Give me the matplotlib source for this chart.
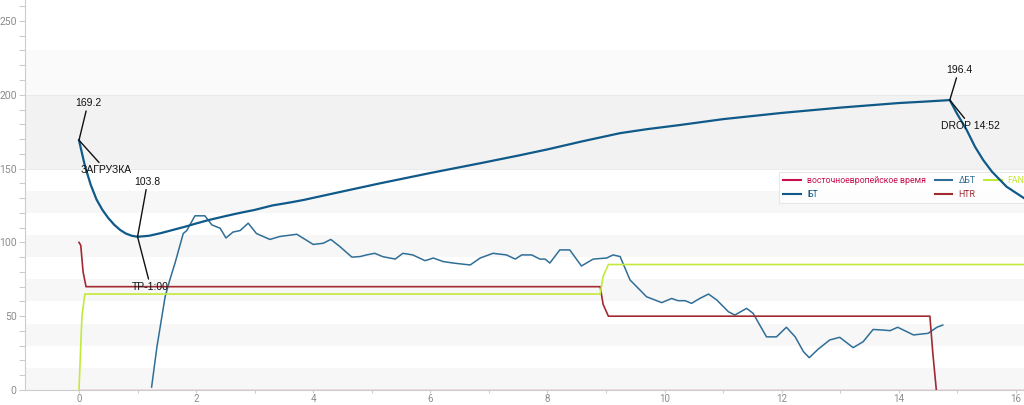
import numpy as np
import matplotlib.pyplot as plt
from matplotlib.ticker import MultipleLocator

plt.rcParams['font.family'] = ['Roboto', 'DejaVu Sans']

# -----------------------------
# Data (time in minutes)
# -----------------------------
bt_t = [0.0, 0.1, 0.2, 0.3, 0.4, 0.5, 0.6, 0.7, 0.8, 0.9, 1.0, 1.2, 1.4, 1.6,
        1.8, 2.0, 2.2, 2.5, 2.75, 3.0, 3.3, 3.6, 3.83, 4.5, 5.14, 6.0, 6.85,
        7.5, 8.0, 8.6, 9.24, 9.7, 10.26, 11.0, 12.0, 13.0, 14.0, 14.5, 14.87,
        14.99, 15.16, 15.3, 15.44, 15.59, 15.84, 16.14, 16.4]
bt_v = [169.2, 152.0, 139.0, 129.0, 122.0, 116.5, 112.0, 108.5, 106.0, 104.5,
        103.8, 104.5, 106.3, 108.4, 110.5, 112.8, 115.0, 117.8, 120.0, 122.0,
        125.0, 127.0, 128.7, 134.5, 140.0, 147.0, 153.6, 158.8, 163.0, 168.5,
        174.0, 176.7, 179.5, 183.5, 187.7, 191.3, 194.4, 195.5, 196.4,
        187.4, 176.0, 164.8, 155.8, 147.9, 137.7, 129.9, 123.0]

ror_t = [1.24, 1.33, 1.47, 1.55, 1.64, 1.78, 1.84, 1.98, 2.15, 2.27, 2.41, 2.51,
         2.63, 2.75, 2.89, 3.03, 3.26, 3.43, 3.72, 4.0, 4.17, 4.3, 4.46, 4.66,
         4.8, 4.91, 5.05, 5.19, 5.4, 5.53, 5.7, 5.91, 6.05, 6.22, 6.39, 6.68,
         6.85, 7.07, 7.3, 7.45, 7.56, 7.73, 7.87, 7.96, 8.04, 8.21, 8.38, 8.58,
         8.78, 9.01, 9.12, 9.24, 9.41, 9.58, 9.69, 9.95, 10.12, 10.23, 10.35,
         10.46, 10.6, 10.75, 10.89, 11.09, 11.2, 11.4, 11.51, 11.74, 11.91,
         12.08, 12.23, 12.37, 12.47, 12.62, 12.82, 12.99, 13.22, 13.39, 13.56,
         13.73, 13.85, 13.98, 14.25, 14.5, 14.65, 14.75]
ror_v = [2.0, 29.0, 63.0, 74.5, 86.0, 106.0, 108.0, 118.0, 118.0, 111.8, 109.6,
         103.0, 107.0, 108.0, 113.0, 106.0, 102.0, 104.0, 105.5, 98.6, 99.4,
         102.0, 97.0, 90.0, 90.4, 91.5, 92.6, 90.3, 88.7, 92.6, 91.5, 87.6,
         89.4, 87.0, 86.0, 84.7, 89.4, 92.6, 91.5, 88.7, 91.5, 91.5, 88.7,
         88.7, 86.0, 94.9, 94.9, 84.0, 88.7, 89.4, 91.5, 90.4, 74.5, 67.7,
         63.2, 59.2, 62.0, 60.5, 60.5, 58.7, 62.0, 65.0, 61.0, 53.0, 50.8,
         55.3, 52.0, 36.0, 36.0, 42.5, 36.0, 26.0, 21.9, 27.6, 33.9, 35.7,
         28.7, 32.7, 41.0, 40.6, 40.2, 42.5, 37.3, 38.4, 42.5, 44.0]

htr_t = [0.0, 0.03, 0.07, 0.12, 8.9, 8.95, 9.04, 14.53, 14.58, 14.64]
htr_v = [100.0, 98.0, 80.0, 70.0, 70.0, 58.0, 50.0, 50.0, 25.0, 0.0]

fan_t = [0.0, 0.05, 0.1, 8.9, 8.95, 9.04, 16.5]
fan_v = [0.0, 50.0, 65.0, 65.0, 77.0, 85.0, 85.0]

et_t = [0.0, 16.5]
et_v = [0.0, 0.0]

# annotations: (time, value, label, offset in pixels)
events = [
    (0.0, 169.2, "169.2", (9, 37)),
    (0.0, 169.2, "ЗАГРУЗКА", (27, -30)),
    (1.0, 103.8, "103.8", (10, 55)),
    (1.0, 103.8, "TP-1:00", (13, -50)),
    (14.87, 196.4, "196.4", (9, 30)),
    (14.87, 196.4, "DROP 14:52", (21, -26)),
]

# colours
c_et = "#c8104e"
c_bt = "#0f5a88"
c_ror = "#2f6e96"
c_htr = "#a02a30"
c_fan = "#c3ea3a"

# -----------------------------
# Figure
# -----------------------------
fig = plt.figure(figsize=(10.24, 4.05), dpi=100)
ax = fig.add_axes([25 / 1024, 15 / 405, 999 / 1024, 390 / 405])
ax.set_xlim(-0.922, 16.137)
ax.set_ylim(0, 264.2)

# background bands
for lo in range(0, 150, 30):
    ax.axhspan(lo, lo + 15, color="#f7f7f8", lw=0, zorder=0)
ax.axhspan(150, 200, color="#f2f2f2", lw=0, zorder=0)
ax.axhspan(200, 230, color="#fafafa", lw=0, zorder=0)
ax.axhline(200, color="#e8e8e8", lw=0.6, zorder=0.5)
ax.axhline(150, color="#e8e8e8", lw=0.6, zorder=0.5)

ax.plot(et_t, et_v, color=c_et, lw=1.0, alpha=0.6,
        label="восточноевропейское время", zorder=2.5)
ax.plot(bt_t, bt_v, color=c_bt, lw=1.6, label="БТ", zorder=4)
ax.plot(ror_t, ror_v, color=c_ror, lw=1.1, label="ΔБТ", zorder=3)
ax.plot(htr_t, htr_v, color=c_htr, lw=1.2, label="HTR", zorder=3)
ax.plot(fan_t, fan_v, color=c_fan, lw=1.2, label="FAN", zorder=3)

for t, v, lab, off in events:
    ax.annotate(lab, xy=(t, v), xytext=off, textcoords="offset pixels",
                ha="center", va="center", fontsize=7.5,
                family=["Liberation Sans", "DejaVu Sans"], color="#111111",
                arrowprops=dict(arrowstyle="-", color="#111111", lw=1.0,
                                shrinkA=0, shrinkB=0),
                zorder=6)

leg = ax.legend(ncol=3, loc="upper left",
                bbox_to_anchor=(779 / 1024, 1 - 172 / 405),
                bbox_transform=fig.transFigure, fontsize=6.3,
                frameon=True, fancybox=False, borderaxespad=0,
                borderpad=0.5, handlelength=2.0, handletextpad=0.7,
                columnspacing=1.0, labelspacing=0.5)
leg.get_frame().set_edgecolor("#e2e2e2")
leg.get_frame().set_linewidth(0.8)
leg.set_zorder(2)
for txt, line in zip(leg.get_texts(), leg.get_lines()):
    txt.set_color(line.get_color())
    line.set_alpha(1.0)
    line.set_linewidth(1.5)

# axes styling
for side in ("top", "right"):
    ax.spines[side].set_visible(False)
for side in ("left", "bottom"):
    ax.spines[side].set_color("#cccccc")
    ax.spines[side].set_linewidth(0.8)

ax.xaxis.set_major_locator(MultipleLocator(2))
ax.xaxis.set_minor_locator(MultipleLocator(1))
ax.yaxis.set_major_locator(MultipleLocator(50))
ax.yaxis.set_minor_locator(MultipleLocator(10))
ax.tick_params(axis="both", which="both", colors="#cccccc", labelcolor="#8c8c8c",
               labelsize=7.5, length=4, width=0.8, pad=2)
ax.tick_params(axis="x", which="both", length=2, pad=1, labelsize=7)

fig.savefig("out.png", dpi=100)
